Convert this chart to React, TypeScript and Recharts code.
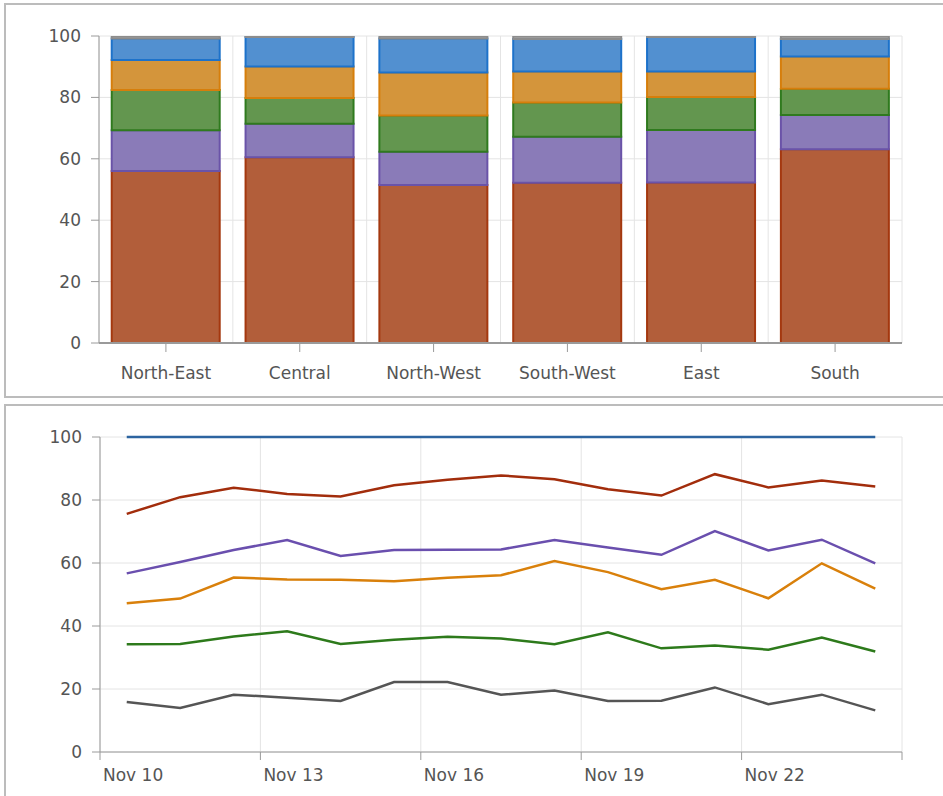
import React from "react";
import {
  BarChart,
  Bar,
  LineChart,
  Line,
  XAxis,
  YAxis,
  CartesianGrid,
} from "recharts";

// top: 100% stacked share per region
const REGIONS = ["North-East", "Central", "North-West", "South-West", "East", "South"];
const SHARE_RED = [56.0, 60.5, 51.5, 52.2, 52.3, 63.1];
const SHARE_PURPLE = [13.3, 10.9, 10.8, 15.0, 17.1, 11.2];
const SHARE_GREEN = [13.1, 8.4, 11.8, 11.1, 10.7, 8.5];
const SHARE_ORANGE = [9.8, 10.3, 14.0, 10.1, 8.3, 10.5];
const SHARE_BLUE = [7.0, 9.6, 11.1, 10.6, 11.3, 5.7];
const SHARE_GRAY = [0.8, 0.3, 0.8, 1.0, 0.3, 1.0];

// bottom: daily lines
const DAYS = [
  "Nov 10", "Nov 11", "Nov 12", "Nov 13", "Nov 14", "Nov 15", "Nov 16", "Nov 17",
  "Nov 18", "Nov 19", "Nov 20", "Nov 21", "Nov 22", "Nov 23", "Nov 24",
];
const LINE_BLUE = [100, 100, 100, 100, 100, 100, 100, 100, 100, 100, 100, 100, 100, 100, 100];
const LINE_RED = [75.6, 80.9, 83.9, 81.9, 81.1, 84.7, 86.4, 87.8, 86.6, 83.4, 81.4, 88.2, 84.0, 86.2, 84.3];
const LINE_PURPLE = [56.7, 60.3, 64.1, 67.3, 62.2, 64.1, 64.2, 64.3, 67.3, 64.9, 62.6, 70.1, 64.0, 67.4, 59.9];
const LINE_ORANGE = [47.2, 48.7, 55.4, 54.8, 54.7, 54.2, 55.3, 56.1, 60.6, 57.1, 51.7, 54.7, 48.8, 59.9, 51.9];
const LINE_GREEN = [34.2, 34.3, 36.7, 38.3, 34.3, 35.6, 36.6, 36.0, 34.2, 38.0, 32.9, 33.8, 32.5, 36.3, 31.9];
const LINE_GRAY = [15.9, 14.0, 18.2, 17.2, 16.2, 22.2, 22.2, 18.2, 19.5, 16.2, 16.3, 20.5, 15.2, 18.2, 13.2];

const Y_TICKS = [0, 20, 40, 60, 80, 100];
const DAY_TICKS = [-0.5, 2.5, 5.5, 8.5, 11.5, 14.5];
const DAY_TICK_LABELS = ["Nov 10", "Nov 13", "Nov 16", "Nov 19", "Nov 22", ""];

const FONT = "'DejaVu Sans', Verdana, sans-serif";
const TXT = "#555";
const AXIS = "#9a9a9a";
const GRID = "#e4e4e4";

const barData = REGIONS.map((r, i) => ({
  name: r,
  red: SHARE_RED[i],
  purple: SHARE_PURPLE[i],
  green: SHARE_GREEN[i],
  orange: SHARE_ORANGE[i],
  blue: SHARE_BLUE[i],
  gray: SHARE_GRAY[i],
}));

const lineData = DAYS.map((d, i) => ({
  idx: i,
  day: d,
  blue: LINE_BLUE[i],
  red: LINE_RED[i],
  purple: LINE_PURPLE[i],
  orange: LINE_ORANGE[i],
  green: LINE_GREEN[i],
  gray: LINE_GRAY[i],
}));

const segments = [
  { key: "red", fill: "#b25e3a", stroke: "#a4380f" },
  { key: "purple", fill: "#8a7bb8", stroke: "#6a53a8" },
  { key: "green", fill: "#63964f", stroke: "#2f7a1e" },
  { key: "orange", fill: "#d4953b", stroke: "#d67e0b" },
  { key: "blue", fill: "#5290d0", stroke: "#1d72ca" },
  { key: "gray", fill: "#9c9c9c", stroke: "#8c8c8c" },
];

const lines = [
  { key: "blue", color: "#2c64a0" },
  { key: "red", color: "#a22d0c" },
  { key: "purple", color: "#6a4fae" },
  { key: "orange", color: "#d9800b" },
  { key: "green", color: "#2d7a1b" },
  { key: "gray", color: "#555555" },
];

const tickStyle = { fill: TXT, fontSize: 17, fontFamily: FONT };

function DayTick(props: any) {
  const { x, y, payload } = props;
  const i = DAY_TICKS.indexOf(payload.value);
  const label = DAY_TICK_LABELS[i] || "";
  return (
    <text x={x + 3} y={y} dy={21} textAnchor="start" {...tickStyle}>
      {label}
    </text>
  );
}

const frame = (top: number, height: number): React.CSSProperties => ({
  position: "absolute",
  left: 4,
  top,
  width: 960,
  height,
  border: "2px solid #bcbcbc",
  boxSizing: "border-box",
});

export default function App() {
  return (
    <div
      style={{
        position: "absolute",
        left: 0,
        top: 0,
        width: 943,
        height: 796,
        background: "#fff",
        overflow: "hidden",
      }}
    >
      <div style={frame(3, 395)} />
      <div style={frame(404, 420)} />

      <div style={{ position: "absolute", left: 0, top: 0 }}>
        <BarChart
          width={943}
          height={400}
          data={barData}
          margin={{ top: 36, right: 41, left: 39, bottom: 27 }}
          barCategoryGap="9.5%"
        >
          <CartesianGrid
            stroke={GRID}
            verticalCoordinatesGenerator={({ offset }: any) =>
              REGIONS.map((_, i) => offset.left + (i * offset.width) / REGIONS.length).concat(
                offset.left + offset.width
              )
            }
          />
          <XAxis
            dataKey="name"
            tick={tickStyle}
            tickSize={9}
            tickMargin={15}
            height={30}
            axisLine={{ stroke: AXIS, strokeWidth: 2 }}
            tickLine={{ stroke: AXIS }}
          />
          <YAxis
            domain={[0, 100]}
            ticks={Y_TICKS}
            width={60}
            tick={tickStyle}
            tickSize={8}
            tickMargin={10}
            axisLine={{ stroke: AXIS }}
            tickLine={{ stroke: AXIS }}
            allowDataOverflow
          />
          {segments.map((s) => (
            <Bar
              key={s.key}
              dataKey={s.key}
              stackId="a"
              fill={s.fill}
              stroke={s.stroke}
              strokeWidth={2}
              isAnimationActive={false}
            />
          ))}
        </BarChart>
      </div>

      <div style={{ position: "absolute", left: 0, top: 400 }}>
        <LineChart
          width={943}
          height={396}
          data={lineData}
          margin={{ top: 37, right: 41, left: 40, bottom: 13 }}
        >
          <CartesianGrid stroke={GRID} />
          <XAxis
            dataKey="idx"
            type="number"
            domain={[-0.5, 14.5]}
            ticks={DAY_TICKS}
            tick={<DayTick />}
            tickSize={8}
            tickMargin={0}
            height={31}
            axisLine={{ stroke: AXIS }}
            tickLine={{ stroke: AXIS }}
            allowDataOverflow
          />
          <YAxis
            domain={[0, 100]}
            ticks={Y_TICKS}
            width={60}
            tick={tickStyle}
            tickSize={8}
            tickMargin={10}
            axisLine={{ stroke: AXIS }}
            tickLine={{ stroke: AXIS }}
          />
          {lines.map((l) => (
            <Line
              key={l.key}
              dataKey={l.key}
              stroke={l.color}
              strokeWidth={2.5}
              dot={false}
              isAnimationActive={false}
            />
          ))}
        </LineChart>
      </div>
    </div>
  );
}
